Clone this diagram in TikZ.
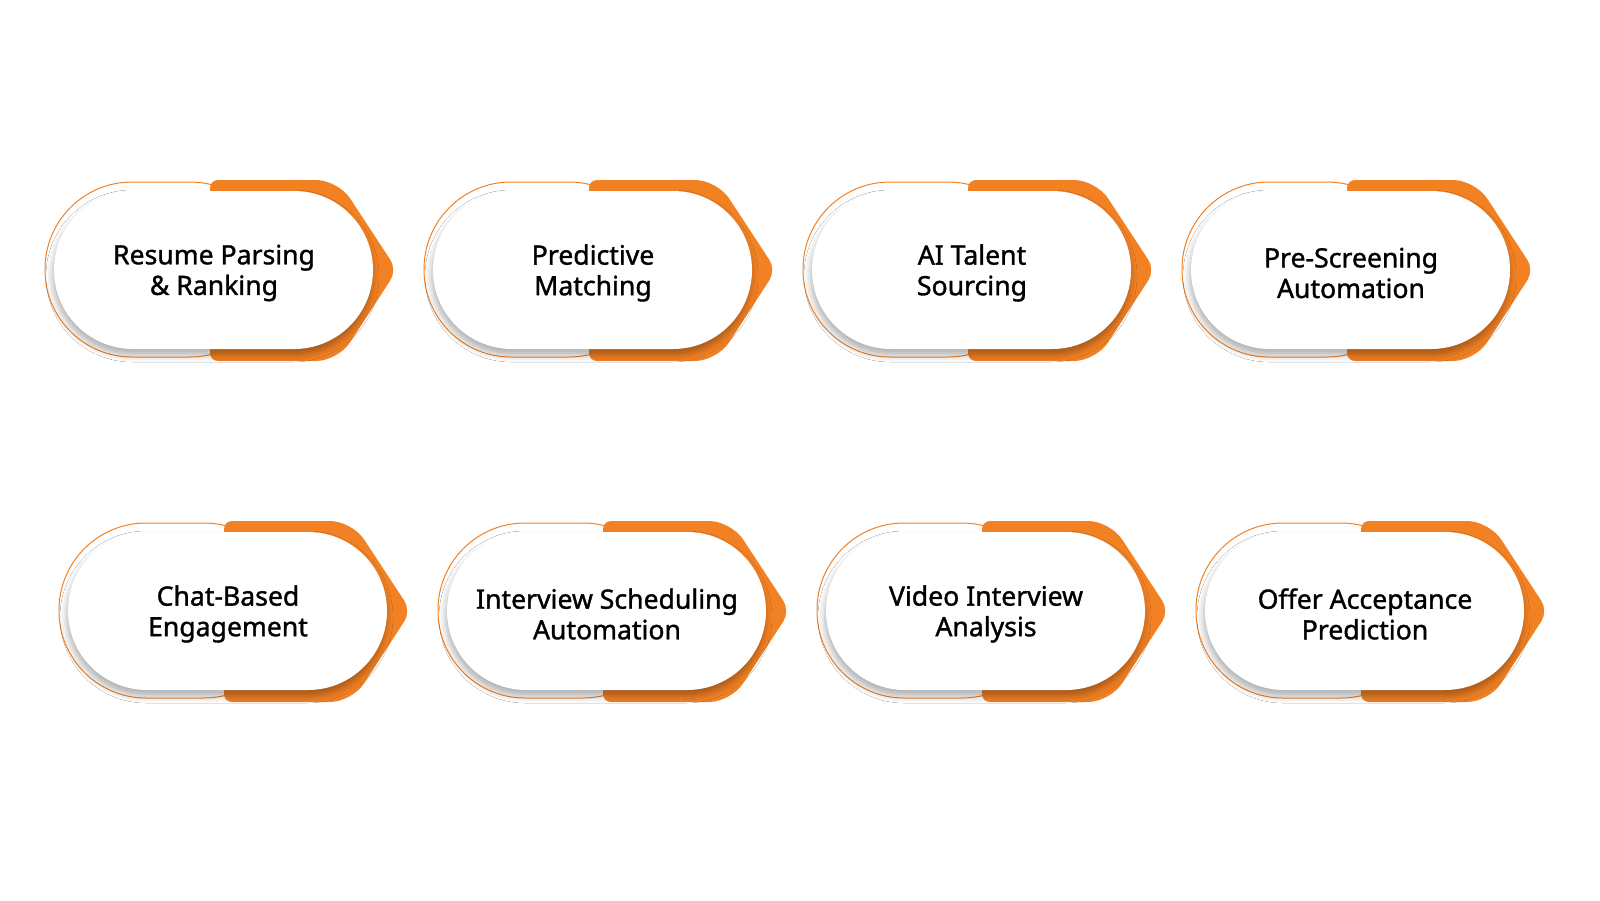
\documentclass[tikz,border=0pt]{standalone}
\usepackage{fontspec}
\setmainfont{Noto Sans}
\newfontfamily\cardfont{Noto Sans}[FakeBold=1.3]
\usetikzlibrary{shadows.blur}
\definecolor{brandorange}{RGB}{242,129,36}
\tikzset{
  outlinepill/.style={draw=brandorange, line width=0.5pt, rounded corners=43.5pt},
  orangeback/.style={fill=brandorange},
  whitepill/.style={fill=white, rounded corners=39.5pt,
    blur shadow={shadow xshift=-0.5pt, shadow yshift=-3pt, shadow blur radius=3.5pt, shadow opacity=32}},
  cardtext/.style={align=center, text=black, font=\cardfont\fontsize{13.3}{15.3}\selectfont, inner sep=0pt}
}
\newcommand\stepcard[4]{%
  \begin{scope}[shift={(#1,#2)}]
    \draw[outlinepill] (-352,-87) rectangle (-120,88);
    \fill[orangeback] (-187,-89) [rounded corners=11pt] -- (-59,-89) [rounded corners=6pt] -- (0,1) [rounded corners=11pt] -- (-59,92) [rounded corners=4pt] -- (-187,92) -- cycle;
    \fill[whitepill] (-343,-78) rectangle (-24,80);
    \node[cardtext] (#3) at (-183,4) {#4};
  \end{scope}
}
\begin{document}
\begin{tikzpicture}[x=0.5pt,y=-0.5pt]
  \useasboundingbox (0,0) rectangle (1600,900);
  \fill[white] (0,0) rectangle (1600,900);
  \stepcard{397}{269}{resume}{Resume Parsing\\\& Ranking}
  \stepcard{776}{269}{predictive}{Predictive\\Matching}
  \stepcard{1155}{269}{sourcing}{AI Talent\\Sourcing}
  \stepcard{1534}{269}{prescreen}{Pre-Screening\\Automation}
  \stepcard{411}{610}{chat}{Chat-Based\\Engagement}
  \stepcard{790}{610}{interview}{Interview Scheduling\\Automation}
  \stepcard{1169}{610}{video}{Video Interview\\Analysis}
  \stepcard{1548}{610}{offer}{Offer Acceptance\\Prediction}
\end{tikzpicture}
\end{document}
